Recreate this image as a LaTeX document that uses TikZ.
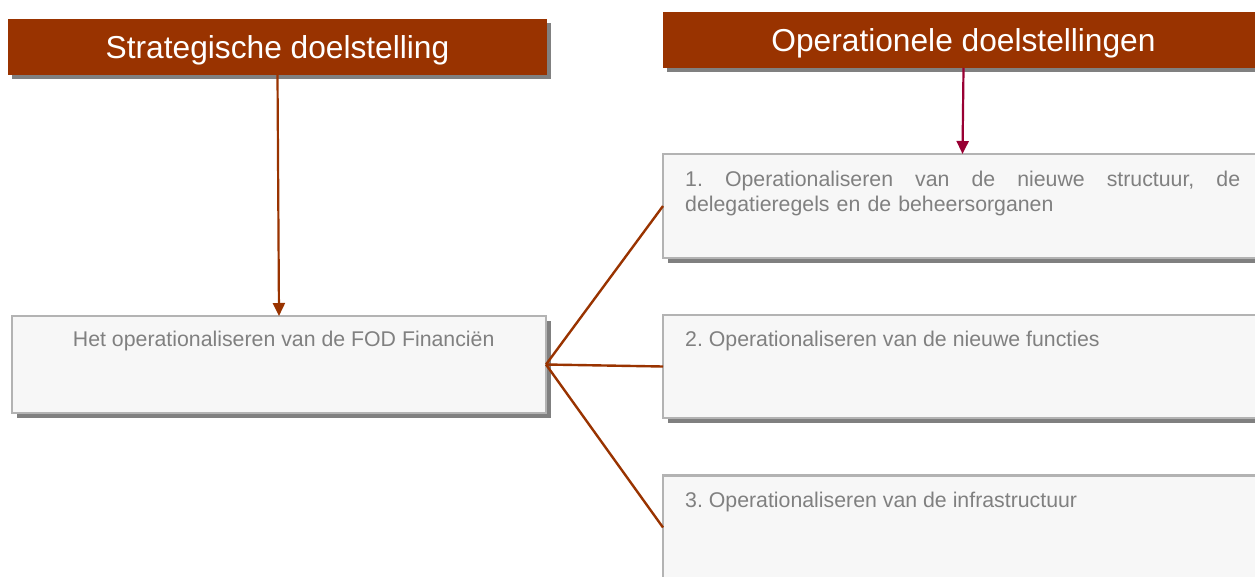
\documentclass[tikz,border=0pt]{standalone}
\usepackage{fontspec}
\setmainfont{Liberation Sans}
\usetikzlibrary{arrows.meta,shadows}
\definecolor{hdr}{HTML}{993300}
\definecolor{arrowred}{HTML}{990033}
\definecolor{boxborder}{HTML}{B3B3B3}
\definecolor{boxfill}{HTML}{F7F7F7}
\definecolor{shadowgray}{HTML}{808080}
\definecolor{txtgray}{HTML}{808080}
\frenchspacing
\begin{document}
\begin{tikzpicture}[x=1pt,y=-1pt,
  header/.style={fill=hdr, text=white, font=\fontsize{31.7}{36}\selectfont,
    inner sep=0pt, outer sep=0pt, text height=24pt, text depth=2pt,
    drop shadow={shadow xshift=4pt,shadow yshift=-4pt,fill=shadowgray,opacity=1}},
  box/.style={draw=boxborder, line width=2.5pt, fill=boxfill, inner sep=0pt, outer sep=0pt,
    drop shadow={shadow xshift=5pt,shadow yshift=-5pt,fill=shadowgray,opacity=1}},
  boxtext/.style={text=txtgray, font=\fontsize{21.3}{24.5}\selectfont\frenchspacing, inner sep=0pt},
  link/.style={draw=hdr, line width=2.4pt},
  arr/.style={line width=2.2pt, -{Triangle[width=12pt,length=13pt]}}
]
\useasboundingbox (0,0) rectangle (1255,576);
\clip (0,0) rectangle (1255,576);

\node[header, minimum width=539pt, minimum height=56pt] (sh) at (277.5,47) {Strategische doelstelling};
\node[header, minimum width=601pt, minimum height=56pt] (oh) at (963.5,40) {Operationele doelstellingen};

\node[box, minimum width=534pt, minimum height=97pt] (sbox) at (279,364.5) {};
\node[box, minimum width=599pt, minimum height=104pt] (b1) at (962.5,206) {};
\node[box, minimum width=599pt, minimum height=103pt] (b2) at (962.5,366.5) {};
\node[box, minimum width=599pt, minimum height=104pt] (b3) at (962.5,527.5) {};

\node[boxtext, anchor=base] (st) at (283.7,346.7) {Het operationaliseren van de FOD Financiën};
\node[boxtext, anchor=base west, text width=555pt, align=left] (t1) at (685,186.7)
  {1.\hfill Operationaliseren\hfill van\hfill de\hfill nieuwe\hfill structuur,\hfill de\\delegatieregels en de beheersorganen};
\node[boxtext, anchor=base west] (t2) at (685,346.7) {2. Operationaliseren van de nieuwe functies};
\node[boxtext, anchor=base west] (t3) at (685,507) {3. Operationaliseren van de infrastructuur};

\draw[arr, draw=hdr] (sh.south) -- (sbox.north);
\draw[arr, draw=arrowred] (oh.south) -- (b1.north);

\draw[link] (sbox.east) -- (b1.west);
\draw[link] (sbox.east) -- (b2.west);
\draw[link] (sbox.east) -- (b3.west);
\end{tikzpicture}
\end{document}
